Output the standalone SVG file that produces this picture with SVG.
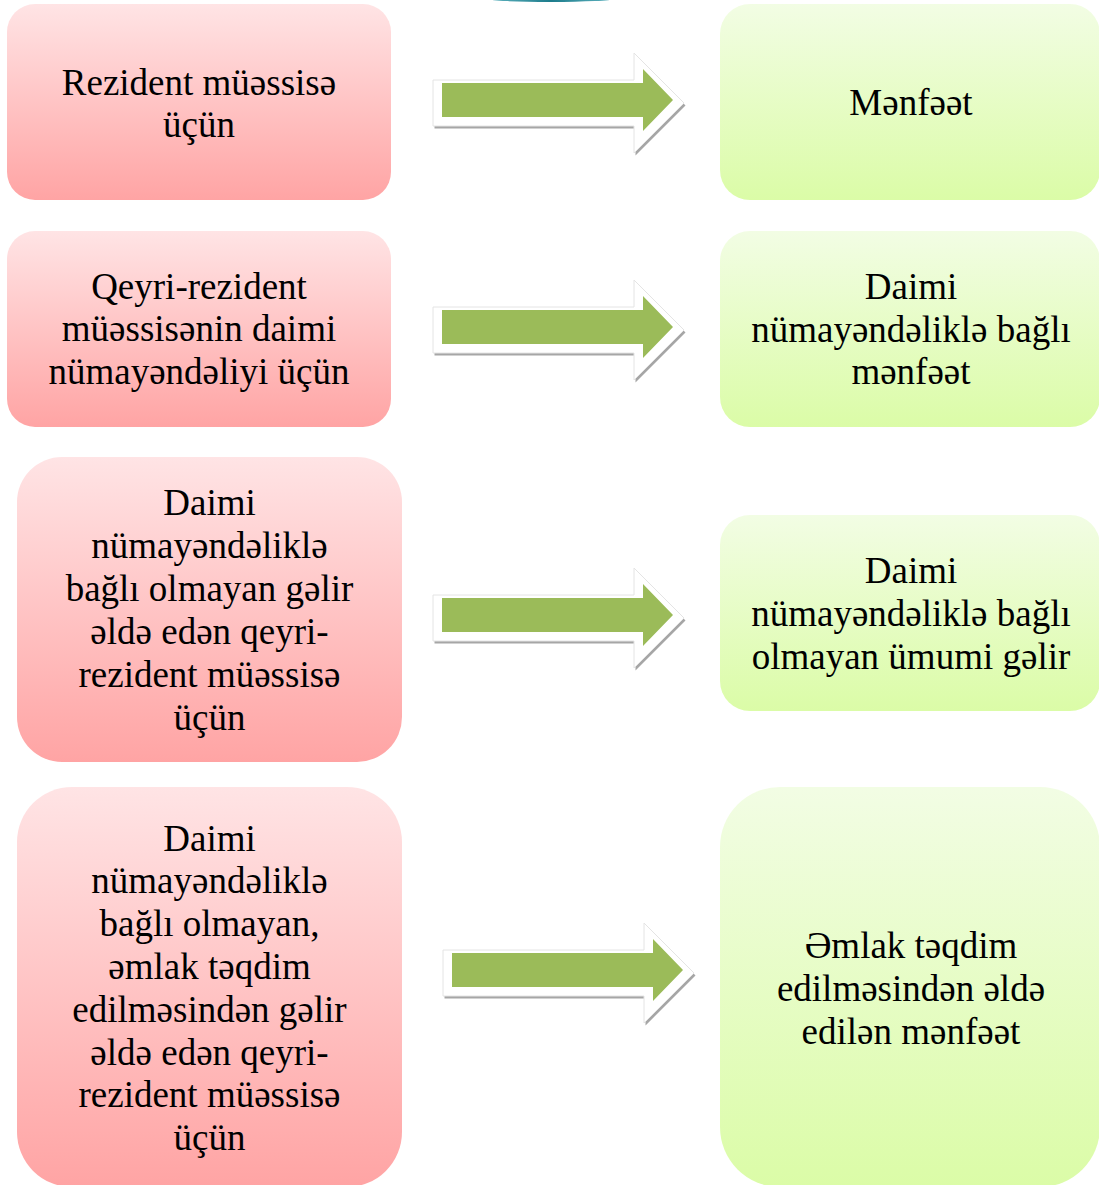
<svg xmlns="http://www.w3.org/2000/svg" width="1099" height="1185" viewBox="0 0 1099 1185">
<defs>
<linearGradient id="pink" x1="0" y1="0" x2="0" y2="1">
<stop offset="0" stop-color="#ffe4e5"/>
<stop offset="1" stop-color="#ffa4a4"/>
</linearGradient>
<linearGradient id="green" x1="0" y1="0" x2="0" y2="1">
<stop offset="0" stop-color="#f2fde4"/>
<stop offset="1" stop-color="#dbfca7"/>
</linearGradient>
<linearGradient id="teal" x1="0" y1="0" x2="1" y2="0">
<stop offset="0" stop-color="#5fb3bf"/>
<stop offset="0.5" stop-color="#1d7c8c"/>
<stop offset="1" stop-color="#5fb3bf"/>
</linearGradient>
<g id="arrow">
<polygon points="0,27 201,27 201,0 251,50 201,100 201,73 0,73" transform="translate(1.5,2.5)" fill="#a6a6a6"/>
<polygon points="0,27 201,27 201,0 251,50 201,100 201,73 0,73" fill="#ffffff" stroke="#e4e4e4" stroke-width="1"/>
<polygon points="9,30 210,30 210,16 240,47 210,78 210,64 9,64" fill="#9bbb59"/>
</g>
</defs>
<style>
.t{font-family:"Liberation Serif","Times New Roman",serif;font-size:37px;fill:#000;text-anchor:middle}
.pk{fill:url(#pink)}
.gr{fill:url(#green)}
</style>
<rect width="1099" height="1185" fill="#ffffff"/>
<ellipse cx="551" cy="-1" rx="62" ry="3" fill="url(#teal)"/>

<g id="connectors">
<use href="#arrow" x="433" y="53"/>
<use href="#arrow" x="433" y="280"/>
<use href="#arrow" x="433" y="568"/>
<use href="#arrow" x="443" y="923"/>
</g>

<g id="node-l1">
<rect class="pk" x="7" y="4" width="384" height="196" rx="28"/>
<text class="t" x="199" y="95">Rezident müəssisə</text>
<text class="t" x="199" y="137">üçün</text>
</g>
<g id="node-r1">
<rect class="gr" x="720" y="4" width="380" height="196" rx="30"/>
<text class="t" x="911" y="115">Mənfəət</text>
</g>
<g id="node-l2">
<rect class="pk" x="7" y="231" width="384" height="196" rx="28"/>
<text class="t" x="199" y="298.5">Qeyri-rezident</text>
<text class="t" x="199" y="341">müəssisənin daimi</text>
<text class="t" x="199" y="384">nümayəndəliyi üçün</text>
</g>
<g id="node-r2">
<rect class="gr" x="720" y="231" width="380" height="196" rx="30"/>
<text class="t" x="911" y="299">Daimi</text>
<text class="t" x="911" y="341.5">nümayəndəliklə bağlı</text>
<text class="t" x="911" y="384">mənfəət</text>
</g>
<g id="node-l3">
<rect class="pk" x="17" y="457" width="385" height="305" rx="45"/>
<text class="t" x="209.5" y="515">Daimi</text>
<text class="t" x="209.5" y="558">nümayəndəliklə</text>
<text class="t" x="209.5" y="601">bağlı olmayan gəlir</text>
<text class="t" x="209.5" y="644">əldə edən qeyri-</text>
<text class="t" x="209.5" y="687">rezident müəssisə</text>
<text class="t" x="209.5" y="730">üçün</text>
</g>
<g id="node-r3">
<rect class="gr" x="720" y="515" width="380" height="196" rx="30"/>
<text class="t" x="911" y="583">Daimi</text>
<text class="t" x="911" y="626">nümayəndəliklə bağlı</text>
<text class="t" x="911" y="669">olmayan ümumi gəlir</text>
</g>
<g id="node-l4">
<rect class="pk" x="17" y="787" width="385" height="400" rx="55"/>
<text class="t" x="209.5" y="850.5">Daimi</text>
<text class="t" x="209.5" y="893.3">nümayəndəliklə</text>
<text class="t" x="209.5" y="936.1">bağlı olmayan,</text>
<text class="t" x="209.5" y="978.9">əmlak təqdim</text>
<text class="t" x="209.5" y="1021.7">edilməsindən gəlir</text>
<text class="t" x="209.5" y="1064.5">əldə edən qeyri-</text>
<text class="t" x="209.5" y="1107.3">rezident müəssisə</text>
<text class="t" x="209.5" y="1150.1">üçün</text>
</g>
<g id="node-r4">
<rect class="gr" x="720" y="787" width="380" height="400" rx="60"/>
<text class="t" x="911" y="958">Əmlak təqdim</text>
<text class="t" x="911" y="1001">edilməsindən əldə</text>
<text class="t" x="911" y="1043.5">edilən mənfəət</text>
</g>
</svg>
